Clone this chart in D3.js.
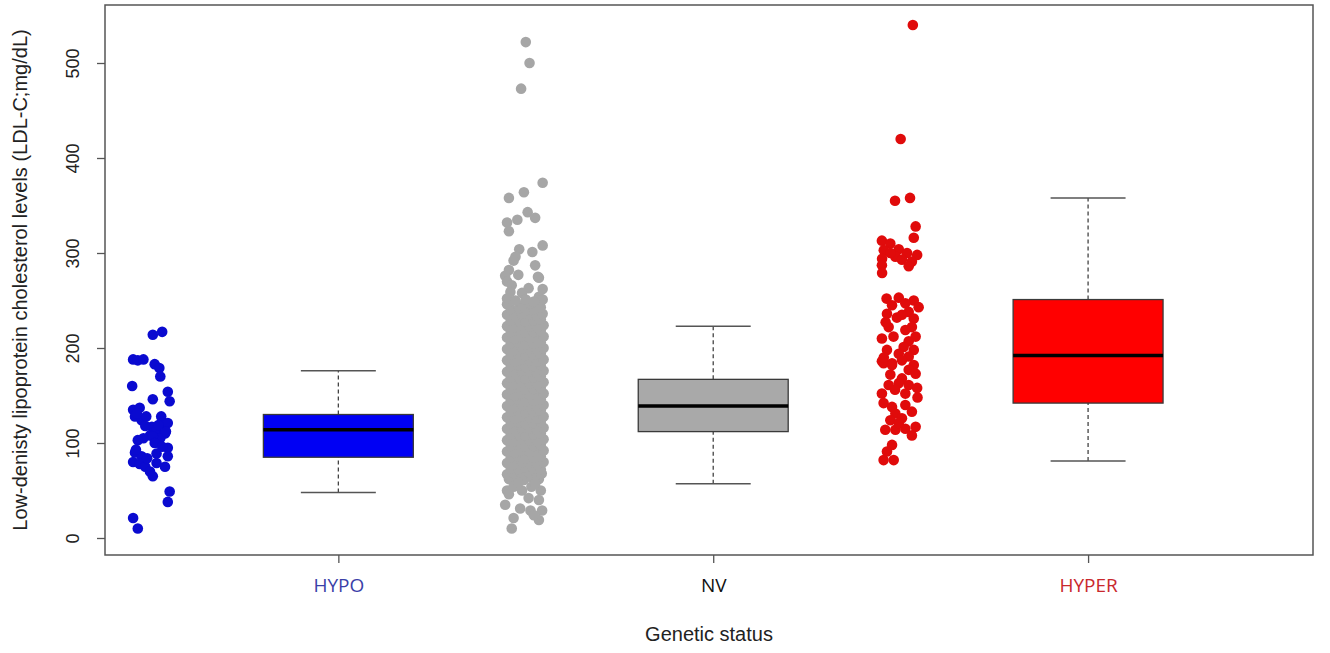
<!DOCTYPE html>
<html>
<head>
<meta charset="utf-8">
<script src="https://cdn.jsdelivr.net/npm/d3@7"></script>
<style>
  body { margin: 0; background: #fff; }
  text { font-family: "Liberation Sans", Arial, sans-serif; }
</style>
</head>
<body>
<div id="my_dataviz"></div>
<script>
// categories and their x positions (boxes at 2,4,6 ; jittered points at 1,3,5)
var groups = ["HYPO", "NV", "HYPER"];
var boxPositions = [2, 4, 6];
var pointPositions = [1, 3, 5];
var labelColors = ["#3b3fa8", "#111111", "#c9282d"];
var yTicks = [0, 100, 200, 300, 400, 500];

// box stats: [lower whisker, Q1, median, Q3, upper whisker]
var hypoStats = [48, 85, 114, 130, 176];
var nvStats = [57, 112, 139, 167, 223];
var hyperStats = [81, 142, 192, 251, 358];

// points: [LDL-C value, jitter (x units)]
var hypoPoints = [
  [214, 0.01], [217, 0.06], [188, -0.095], [187, -0.07], [188, -0.04], [183, 0.02],
  [179, 0.045], [170, 0.05], [160, -0.1], [154, 0.09], [144, 0.1], [146, 0.01],
  [135, -0.095], [137, -0.06], [128, -0.085], [124, -0.05], [128, -0.025], [128, 0.055],
  [121, 0.065], [121, 0.09], [117, 0.005], [114, 0.03], [110, 0.075], [108, -0.005],
  [105, -0.04], [103, -0.07], [105, 0.05], [107, 0.01], [95, 0.09], [86, 0.09],
  [89, 0.03], [90, -0.085], [86, -0.05], [80, -0.095], [78, -0.06], [75, -0.03],
  [70, -0.005], [65, 0.01], [79, 0.03], [75, 0.075], [49, 0.1], [38, 0.09],
  [21, -0.095], [10, -0.07], [131, -0.075], [118, -0.03], [112, 0.08], [100, 0.02],
  [93, -0.08], [84, -0.02], [119, 0.04], [96, 0.06]
];

var nvOutliers = [
  [522, 0], [500, 0.02], [473, -0.025], [374, 0.09], [364, -0.01], [358, -0.09],
  [343, 0.01], [337, 0.05], [335, -0.045], [332, -0.1], [323, -0.09], [308, 0.09],
  [301, 0.035], [304, -0.035], [296, -0.055], [292, -0.065], [287, 0.05], [275, 0.065],
  [277, -0.04], [282, -0.09], [276, -0.11], [270, -0.1], [266, -0.075], [263, 0.015],
  [259, -0.082], [258, -0.02], [254, 0.07], [251, 0.09], [252, -0.1], [250, -0.055],
  [251, 0], [249, 0.043], [274, 0.07], [262, 0.09],
  [50, -0.1], [54, -0.065], [50, -0.02], [54, 0.03], [50, 0.08], [42, 0.015],
  [40, 0.07], [35, -0.11], [31, -0.03], [29, 0.025], [29, 0.087], [19, 0.07],
  [21, -0.065], [10, -0.075], [24, 0.043], [46, -0.09], [57, 0.05], [58, -0.04]
];

var nvCore = [
  [62, -0.09], [63, -0.05], [61, -0.01], [64, 0.03], [62, 0.07],
  [67, -0.1], [68, -0.06], [66, -0.02], [69, 0.02], [67, 0.06], [68, 0.085],
  [73, -0.08], [72, -0.04], [74, 0], [73, 0.04], [72, 0.08],
  [79, -0.1], [78, -0.06], [80, -0.02], [79, 0.02], [78, 0.06], [80, 0.095],
  [85, -0.08], [86, -0.04], [84, 0], [85, 0.04], [86, 0.08],
  [91, -0.1], [90, -0.06], [92, -0.02], [91, 0.02], [90, 0.06], [92, 0.095],
  [97, -0.08], [98, -0.04], [96, 0], [97, 0.04], [98, 0.08],
  [103, -0.1], [102, -0.06], [104, -0.02], [103, 0.02], [102, 0.06], [104, 0.095],
  [109, -0.08], [110, -0.04], [108, 0], [109, 0.04], [110, 0.08],
  [115, -0.1], [114, -0.06], [116, -0.02], [115, 0.02], [114, 0.06], [116, 0.095],
  [121, -0.08], [122, -0.04], [120, 0], [121, 0.04], [122, 0.08],
  [127, -0.1], [126, -0.06], [128, -0.02], [127, 0.02], [126, 0.06], [128, 0.095],
  [133, -0.08], [134, -0.04], [132, 0], [133, 0.04], [134, 0.08],
  [139, -0.1], [138, -0.06], [140, -0.02], [139, 0.02], [138, 0.06], [140, 0.095],
  [145, -0.08], [146, -0.04], [144, 0], [145, 0.04], [146, 0.08],
  [151, -0.1], [150, -0.06], [152, -0.02], [151, 0.02], [150, 0.06], [152, 0.095],
  [157, -0.08], [158, -0.04], [156, 0], [157, 0.04], [158, 0.08],
  [163, -0.1], [162, -0.06], [164, -0.02], [163, 0.02], [162, 0.06], [164, 0.095],
  [169, -0.08], [170, -0.04], [168, 0], [169, 0.04], [170, 0.08],
  [175, -0.1], [174, -0.06], [176, -0.02], [175, 0.02], [174, 0.06], [176, 0.095],
  [181, -0.08], [182, -0.04], [180, 0], [181, 0.04], [182, 0.08],
  [187, -0.1], [186, -0.06], [188, -0.02], [187, 0.02], [186, 0.06], [188, 0.095],
  [193, -0.08], [194, -0.04], [192, 0], [193, 0.04], [194, 0.08],
  [199, -0.1], [198, -0.06], [200, -0.02], [199, 0.02], [198, 0.06], [200, 0.095],
  [205, -0.08], [206, -0.04], [204, 0], [205, 0.04], [206, 0.08],
  [211, -0.1], [210, -0.06], [212, -0.02], [211, 0.02], [210, 0.06], [212, 0.095],
  [217, -0.08], [218, -0.04], [216, 0], [217, 0.04], [218, 0.08],
  [223, -0.1], [222, -0.06], [224, -0.02], [223, 0.02], [222, 0.06], [224, 0.095],
  [229, -0.08], [230, -0.04], [228, 0], [229, 0.04], [230, 0.08],
  [235, -0.1], [234, -0.06], [236, -0.02], [235, 0.02], [234, 0.06], [236, 0.09],
  [241, -0.08], [242, -0.035], [240, 0.005], [241, 0.045], [243, 0.08],
  [246, -0.1], [245, -0.02], [247, 0.03]
];

var hyperPoints = [
  [540, 0.065], [420, 0], [355, -0.03], [358, 0.05], [328, 0.08], [316, 0.07],
  [313, -0.1], [310, -0.055], [303, -0.09], [304, -0.01], [300, 0.034], [298, 0.088],
  [294, -0.099], [296, -0.028], [300, -0.055], [291, 0.06], [293, 0.007], [286, 0.043],
  [287, -0.1], [279, -0.099],
  [252, -0.075], [253, -0.01], [250, 0.07], [247, 0.025], [245, -0.046], [243, 0.096],
  [236, -0.073], [238, 0.043], [232, -0.02], [231, 0.07], [235, 0.007],
  [222, 0.06], [222, -0.064], [219, 0.025], [212, 0.08], [212, -0.038], [210, -0.1],
  [207, 0.043], [201, 0.016], [198, -0.073], [198, 0.07], [194, -0.01], [191, 0.043],
  [186, -0.1], [184, -0.046], [187, 0.007], [182, 0.07],
  [184, -0.091], [182, -0.046], [177, 0.043], [173, 0.08], [172, -0.055], [168, 0.007],
  [161, -0.064], [163, -0.01], [161, 0.043], [158, 0.088], [152, -0.1], [152, 0.025],
  [142, -0.091], [138, -0.046], [140, 0.025], [131, -0.028], [133, 0.06], [124, -0.055],
  [126, 0.007], [117, 0.08], [115, 0.025], [114, -0.082], [114, -0.028], [121, -0.01],
  [98, -0.046], [91, -0.073], [82, -0.091], [82, -0.037],
  [108, 0.06], [148, 0.09], [156, -0.03], [190, -0.09], [227, -0.08]
];

var stats = [hypoStats, nvStats, hyperStats];
var boxFill = ["#0000f4", "#a9a9a9", "#ff0000"];
var pointColor = ["#0a0ad0", "#a6a6a6", "#e00b0b"];

// set the dimensions and margins of the graph
var svgW = 1330, svgH = 653;
var plot = {left: 105, right: 1313, top: 5, bottom: 555};

var svg = d3.select("#my_dataviz")
  .append("svg")
    .attr("width", svgW)
    .attr("height", svgH);

var x = d3.scaleLinear()
  .domain([0.755, 7.2])
  .range([plot.left, plot.right]);

var y = d3.scaleLinear()
  .domain([0, 500])
  .range([538, 63]);

// points
function drawPoints(data, pos, color) {
  svg.append("g")
    .selectAll("circle")
    .data(data)
    .enter()
    .append("circle")
      .attr("cx", function(d) { return x(pos + d[1]); })
      .attr("cy", function(d) { return y(d[0]); })
      .attr("r", 5.3)
      .attr("fill", color);
}
drawPoints(hypoPoints, pointPositions[0], pointColor[0]);
drawPoints(nvCore, pointPositions[1], pointColor[1]);
drawPoints(nvOutliers, pointPositions[1], pointColor[1]);
drawPoints(hyperPoints, pointPositions[2], pointColor[2]);

// boxes
var boxHalf = 0.4, capHalf = 0.2;
stats.forEach(function(s, i) {
  var c = boxPositions[i];
  var g = svg.append("g");
  // whiskers
  g.selectAll("line.wh")
    .data([[s[0], s[1]], [s[3], s[4]]])
    .enter()
    .append("line")
      .attr("x1", x(c)).attr("x2", x(c))
      .attr("y1", function(d) { return y(d[0]); })
      .attr("y2", function(d) { return y(d[1]); })
      .attr("stroke", "#444")
      .attr("stroke-width", 1.3)
      .attr("stroke-dasharray", "4,3");
  g.selectAll("line.cap")
    .data([s[0], s[4]])
    .enter()
    .append("line")
      .attr("x1", x(c - capHalf)).attr("x2", x(c + capHalf))
      .attr("y1", function(d) { return y(d); })
      .attr("y2", function(d) { return y(d); })
      .attr("stroke", "#555")
      .attr("stroke-width", 1.5);
  g.append("rect")
    .attr("x", x(c - boxHalf))
    .attr("y", y(s[3]))
    .attr("width", x(c + boxHalf) - x(c - boxHalf))
    .attr("height", y(s[1]) - y(s[3]))
    .attr("fill", boxFill[i])
    .attr("stroke", "#3a3a3a")
    .attr("stroke-width", 1.3);
  g.append("line")
    .attr("x1", x(c - boxHalf)).attr("x2", x(c + boxHalf))
    .attr("y1", y(s[2])).attr("y2", y(s[2]))
    .attr("stroke", "#000")
    .attr("stroke-width", 3.5);
});

// plot frame
svg.append("rect")
  .attr("x", plot.left)
  .attr("y", plot.top)
  .attr("width", plot.right - plot.left)
  .attr("height", plot.bottom - plot.top)
  .attr("fill", "none")
  .attr("stroke", "#555")
  .attr("stroke-width", 1.5);

// Y axis
var yAxis = svg.append("g")
  .attr("transform", "translate(" + plot.left + ",0)")
  .call(d3.axisLeft(y).tickValues(yTicks).tickSize(8).tickSizeOuter(0));
yAxis.select(".domain").remove();
yAxis.selectAll("line").attr("stroke", "#555").attr("stroke-width", 1.3);
yAxis.selectAll("text")
  .attr("transform", "rotate(-90)")
  .attr("x", 0)
  .attr("y", -26)
  .attr("dy", 0)
  .attr("text-anchor", "middle")
  .attr("fill", "#222")
  .style("font-size", "18px")
  .style("font-family", "'Liberation Sans', Arial, sans-serif");

// X axis
var xAxis = svg.append("g")
  .attr("transform", "translate(0," + plot.bottom + ")")
  .call(d3.axisBottom(x).tickValues(boxPositions).tickSize(8).tickSizeOuter(0)
    .tickFormat(function(d, i) { return groups[i]; }));
xAxis.select(".domain").remove();
xAxis.selectAll("line").attr("stroke", "#555").attr("stroke-width", 1.3);
xAxis.selectAll("text")
  .attr("y", 24)
  .attr("dy", "0.71em")
  .attr("fill", function(d, i) { return labelColors[i]; })
  .style("font-size", "19px")
  .style("font-family", "'Open Sans', 'Noto Sans', sans-serif");

// axis titles
svg.append("text")
  .attr("x", (plot.left + plot.right) / 2)
  .attr("y", 641)
  .attr("text-anchor", "middle")
  .attr("fill", "#222")
  .style("font-size", "20px")
  .text("Genetic status");

svg.append("text")
  .attr("transform", "translate(20," + ((plot.top + plot.bottom) / 2) + ") rotate(-90)")
  .attr("text-anchor", "middle")
  .attr("dy", "0.35em")
  .attr("fill", "#222")
  .style("font-size", "20px")
  .text("Low-denisty lipoprotein cholesterol levels (LDL-C;mg/dL)");
</script>
</body>
</html>
